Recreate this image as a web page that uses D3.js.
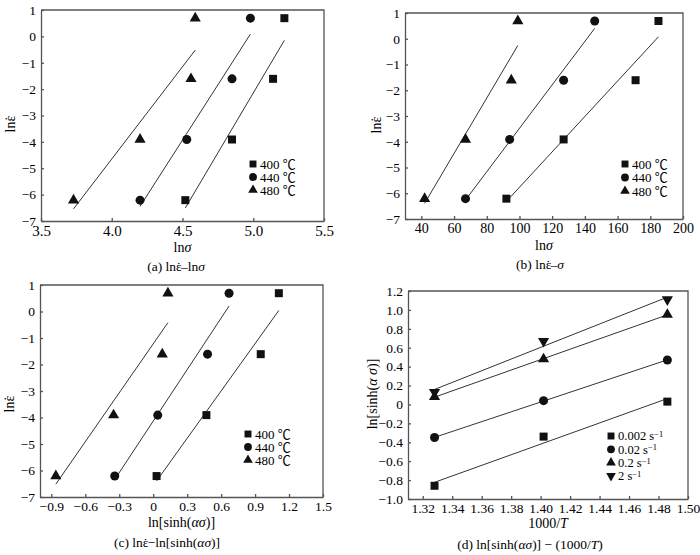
<!DOCTYPE html>
<html>
<head>
<meta charset="utf-8">
<script src="https://cdn.jsdelivr.net/npm/d3@7"></script>
<style>
  body { margin: 0; background: #fff; }
</style>
</head>
<body>
<div id="chart"></div>
<script>
// ---- data ----
var tempLabels = ["400 ℃", "440 ℃", "480 ℃"];
var rateLabels = ["0.002 s", "0.02 s", "0.2 s", "2 s"];

// ln(strain rate) for 0.002, 0.02, 0.2, 2 s^-1
var lnRate = [-6.21, -3.91, -1.61, 0.69];

// (a) ln(sigma) by temperature
var lnSigma400 = [4.52, 4.85, 5.14, 5.22];
var lnSigma440 = [4.20, 4.53, 4.85, 4.98];
var lnSigma480 = [3.73, 4.20, 4.56, 4.59];

// (b) sigma by temperature
var sigma400 = [92, 127, 171, 185];
var sigma440 = [67, 94, 127, 146];
var sigma480 = [42, 67, 95, 99];

// (c) ln[sinh(alpha sigma)] by temperature
var sinh400 = [0.03, 0.47, 0.95, 1.11];
var sinh440 = [-0.34, 0.04, 0.48, 0.67];
var sinh480 = [-0.86, -0.35, 0.08, 0.13];

// (d) 1000/T for 400, 440, 480 ℃
var invT = [1.486, 1.402, 1.328];

// tick values
var xTicksA = [3.5, 4.0, 4.5, 5.0, 5.5];
var xTicksB = [40, 60, 80, 100, 120, 140, 160, 180, 200];
var xTicksC = [-0.9, -0.6, -0.3, 0, 0.3, 0.6, 0.9, 1.2, 1.5];
var xTicksD = [1.32, 1.34, 1.36, 1.38, 1.40, 1.42, 1.44, 1.46, 1.48, 1.50];
var yTicksABC = [-7, -6, -5, -4, -3, -2, -1, 0, 1];
var yTicksD = [-1.0, -0.8, -0.6, -0.4, -0.2, 0, 0.2, 0.4, 0.6, 0.8, 1.0, 1.2];

var serif = "'Liberation Serif', 'Noto Sans CJK SC', serif";

var svg = d3.select("#chart").append("svg")
    .attr("width", 700).attr("height", 555)
    .attr("font-family", serif);

var frameColor = "#555";
var fmt1 = d3.format(".1f");
var fmt2 = d3.format(".2f");
var fmtZero1 = function (v) { return Math.abs(v) < 1e-9 ? "0" : fmt1(v); };
var fmtInt = d3.format("d");

var shapes = {
    square: d3.symbol().type(d3.symbolSquare),
    circle: d3.symbol().type(d3.symbolCircle),
    up: d3.symbol().type(d3.symbolTriangle),
    down: d3.symbol().type(d3.symbolTriangle)
};
var markSize = { square: 64, circle: 64, up: 54, down: 54 };

// simple least squares fit, y on x
function fit(xs, ys) {
    var mx = d3.mean(xs), my = d3.mean(ys);
    var sxy = d3.sum(xs, (x, i) => (x - mx) * (ys[i] - my));
    var sxx = d3.sum(xs, x => (x - mx) * (x - mx));
    var k = sxy / sxx;
    return x => my + k * (x - mx);
}

function drawMark(g, shape, x, y, size) {
    g.append("path")
        .attr("d", shapes[shape].size(size)())
        .attr("transform", `translate(${x},${y})` + (shape === "down" ? " rotate(180)" : ""))
        .attr("fill", "#111");
}

// append text built from pieces: [string, italic] or "EPS" for the dotted epsilon
function richText(sel, parts) {
    sel.attr("font-family", serif).attr("fill", "#000");
    parts.forEach(p => {
        if (p === "EPS") {
            sel.append("tspan").text("ε");
            sel.append("tspan").attr("dx", "-0.39em").text("˙");
            sel.append("tspan").attr("dx", "0.05em").text("");
            return;
        }
        var t = sel.append("tspan").text(p[0]);
        if (p[1]) t.attr("font-style", "italic");
    });
    return sel;
}

function panel(c) {
    var g = svg.append("g");
    var x = d3.scaleLinear().domain(c.xDomain).range([c.left, c.right]);
    var y = d3.scaleLinear().domain(c.yDomain).range([c.bottom, c.top]);

    // axes with inward ticks
    var xAxis = d3.axisBottom(x).tickValues(c.xTicks).tickFormat(c.xFmt)
        .tickSizeInner(-3).tickSizeOuter(0).tickPadding(4);
    var yAxis = d3.axisLeft(y).tickValues(c.yTicks).tickFormat(c.yFmt)
        .tickSizeInner(-3).tickSizeOuter(0).tickPadding(5);

    var gx = g.append("g").attr("transform", `translate(0,${c.bottom})`).call(xAxis);
    var gy = g.append("g").attr("transform", `translate(${c.left},0)`).call(yAxis);
    gx.attr("font-size", c.xTickSize);
    gy.attr("font-size", 13.5);
    [gx, gy].forEach(a => {
        a.attr("font-family", serif);
        a.selectAll("path, line").attr("stroke", frameColor).attr("stroke-width", 1.3);
        a.selectAll("text").attr("fill", "#000");
    });

    // top and right edge of the box
    g.append("path")
        .attr("d", `M${c.left},${c.top}H${c.right}V${c.bottom}`)
        .attr("fill", "none").attr("stroke", frameColor).attr("stroke-width", 1.3);

    // fit lines then points
    c.series.forEach(s => {
        var f = fit(s.x, s.y);
        var ext = d3.extent(s.x);
        g.append("line")
            .attr("x1", x(ext[0])).attr("y1", y(f(ext[0])))
            .attr("x2", x(ext[1])).attr("y2", y(f(ext[1])))
            .attr("stroke", "#333").attr("stroke-width", 1);
        s.x.forEach((v, i) => drawMark(g, s.shape, x(v), y(s.y[i]), markSize[s.shape]));
    });

    // legend
    c.series.forEach((s, i) => {
        var ly = c.legend.y + i * c.legend.dy;
        drawMark(g, s.shape, c.legend.x, ly, markSize[s.shape] * 0.75);
        var t = g.append("text")
            .attr("x", c.legend.x + 7).attr("y", ly).attr("dy", "0.35em")
            .attr("font-size", c.legend.size).attr("fill", "#000").text(s.label);
        if (s.sup) {
            t.append("tspan").attr("dy", "-0.4em").attr("font-size", 8.5).text(s.sup);
        }
    });

    // axis titles and caption
    richText(g.append("text")
        .attr("x", (c.left + c.right) / 2).attr("y", c.bottom + c.xTitleDy)
        .attr("text-anchor", "middle").attr("font-size", 14), c.xTitle);

    richText(g.append("text")
        .attr("transform", `translate(${c.yTitleX},${c.yTitleY}) rotate(-90)`)
        .attr("text-anchor", "middle").attr("font-size", 14), c.yTitle);

    richText(g.append("text")
        .attr("x", c.captionX).attr("y", c.bottom + 50)
        .attr("text-anchor", "middle").attr("font-size", 13.5), c.caption);
}

var lnEps = [["ln", false], "EPS"];

panel({
    left: 41, right: 324, top: 10, bottom: 221,
    xDomain: [3.5, 5.5], yDomain: [-7, 1],
    xTicks: xTicksA, yTicks: yTicksABC, xFmt: fmt1, yFmt: fmtInt, xTickSize: 15,
    series: [
        { x: lnSigma400, y: lnRate, shape: "square", label: tempLabels[0] },
        { x: lnSigma440, y: lnRate, shape: "circle", label: tempLabels[1] },
        { x: lnSigma480, y: lnRate, shape: "up", label: tempLabels[2] }
    ],
    legend: { x: 253, y: 164, dy: 13, size: 13 },
    xTitle: [["ln", false], ["σ", true]], xTitleDy: 31,
    yTitle: lnEps, yTitleX: 15, yTitleY: 124,
    caption: [["(a)  ln", false], "EPS", ["–ln", false], ["σ", true]], captionX: 176
});

panel({
    left: 405, right: 683, top: 13, bottom: 219,
    xDomain: [30, 200], yDomain: [-7, 1],
    xTicks: xTicksB, yTicks: yTicksABC, xFmt: fmtInt, yFmt: fmtInt, xTickSize: 14,
    series: [
        { x: sigma400, y: lnRate, shape: "square", label: tempLabels[0] },
        { x: sigma440, y: lnRate, shape: "circle", label: tempLabels[1] },
        { x: sigma480, y: lnRate, shape: "up", label: tempLabels[2] }
    ],
    legend: { x: 625, y: 164, dy: 13.5, size: 13 },
    xTitle: [["ln", false], ["σ", true]], xTitleDy: 31,
    yTitle: lnEps, yTitleX: 381, yTitleY: 125,
    caption: [["(b)  ln", false], "EPS", ["–", false], ["σ", true]], captionX: 540
});

panel({
    left: 40, right: 323, top: 285, bottom: 497,
    xDomain: [-1.0, 1.5], yDomain: [-7, 1],
    xTicks: xTicksC, yTicks: yTicksABC, xFmt: fmtZero1, yFmt: fmtInt, xTickSize: 13.5,
    series: [
        { x: sinh400, y: lnRate, shape: "square", label: tempLabels[0] },
        { x: sinh440, y: lnRate, shape: "circle", label: tempLabels[1] },
        { x: sinh480, y: lnRate, shape: "up", label: tempLabels[2] }
    ],
    legend: { x: 248, y: 434, dy: 13, size: 13 },
    xTitle: [["ln[sinh(", false], ["ασ", true], [")]", false]], xTitleDy: 30,
    yTitle: lnEps, yTitleX: 14, yTitleY: 404,
    caption: [["(c)  ln", false], "EPS", ["−ln[sinh(", false], ["ασ", true], [")]", false]], captionX: 167
});

panel({
    left: 408, right: 688, top: 291, bottom: 499,
    xDomain: [1.31, 1.50], yDomain: [-1.0, 1.2],
    xTicks: xTicksD, yTicks: yTicksD, xFmt: fmt2, yFmt: fmtZero1, xTickSize: 13.5,
    series: rateLabels.map((lab, j) => ({
        x: invT,
        y: [sinh400[j], sinh440[j], sinh480[j]],
        shape: ["square", "circle", "up", "down"][j],
        label: lab, sup: "−1"
    })),
    legend: { x: 611, y: 436, dy: 13.3, size: 12.5 },
    xTitle: [["1000/", false], ["T", true]], xTitleDy: 29,
    yTitle: [["ln[sinh(", false], ["α σ", true], [")]", false]], yTitleX: 377, yTitleY: 394,
    caption: [["(d)  ln[sinh(", false], ["ασ", true], [")] − (1000/", false], ["T", true], [")", false]], captionX: 530
});
</script>
</body>
</html>
